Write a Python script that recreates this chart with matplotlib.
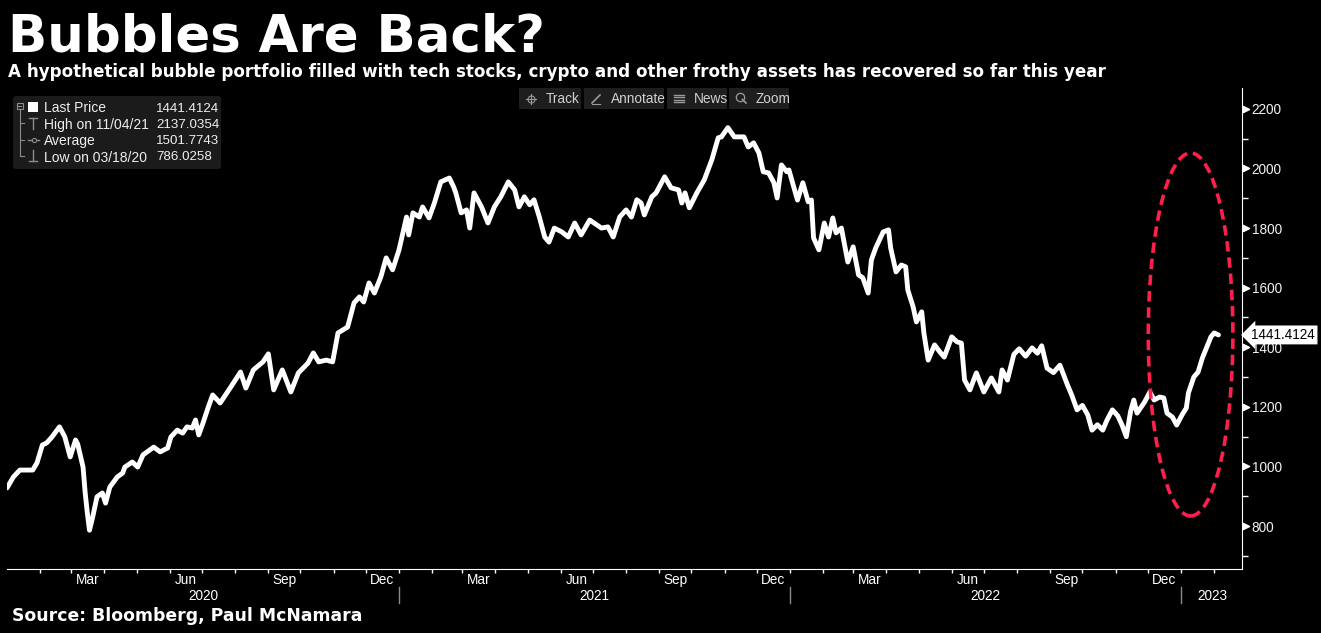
from matplotlib import pyplot as plt
from matplotlib import patches
import matplotlib.dates as mdates
import numpy as np
import pandas as pd

#Bubble portfolio index (one list per year)
dates2020 = ['2020-01-01', '2020-01-07', '2020-01-13', '2020-01-25', '2020-01-29', '2020-02-03', '2020-02-07',
             '2020-02-12', '2020-02-19', '2020-02-24', '2020-02-29', '2020-03-05', '2020-03-07', '2020-03-12',
             '2020-03-14', '2020-03-16', '2020-03-18', '2020-03-21', '2020-03-25', '2020-03-30', '2020-04-02',
             '2020-04-06', '2020-04-13', '2020-04-18', '2020-04-20', '2020-04-27', '2020-05-02', '2020-05-07',
             '2020-05-17', '2020-05-23', '2020-05-30', '2020-06-02', '2020-06-08', '2020-06-13', '2020-06-17',
             '2020-06-22', '2020-06-25', '2020-06-28', '2020-07-02', '2020-07-07', '2020-07-11', '2020-07-18',
             '2020-07-28', '2020-08-06', '2020-08-11', '2020-08-18', '2020-08-27', '2020-09-01', '2020-09-06',
             '2020-09-14', '2020-09-22', '2020-09-29', '2020-10-08', '2020-10-13', '2020-10-18', '2020-10-25',
             '2020-10-31', '2020-11-05', '2020-11-14', '2020-11-20', '2020-11-25', '2020-11-29', '2020-12-04',
             '2020-12-09', '2020-12-15', '2020-12-20', '2020-12-26']
values2020 = [928, 965, 988, 988, 1012, 1072, 1079,
              1099, 1133, 1099, 1032, 1089, 1075, 998,
              911, 844, 786, 830, 898, 911, 877,
              931, 965, 978, 998, 1015, 998, 1039,
              1065, 1049, 1062, 1099, 1122, 1112, 1133,
              1129, 1156, 1106, 1146, 1200, 1240, 1213,
              1267, 1317, 1263, 1324, 1351, 1378, 1257,
              1324, 1250, 1314, 1347, 1381, 1351, 1357,
              1351, 1448, 1468, 1549, 1569, 1552, 1616,
              1582, 1636, 1700, 1660]

dates2021 = ['2021-01-01', '2021-01-08', '2021-01-10', '2021-01-14', '2021-01-20', '2021-01-23', '2021-01-29',
             '2021-02-03', '2021-02-09', '2021-02-17', '2021-02-21', '2021-02-23', '2021-02-28', '2021-03-05',
             '2021-03-08', '2021-03-12', '2021-03-19', '2021-03-25', '2021-03-31', '2021-04-06', '2021-04-13',
             '2021-04-19', '2021-04-23', '2021-04-28', '2021-05-03', '2021-05-07', '2021-05-12', '2021-05-17',
             '2021-05-21', '2021-05-26', '2021-06-02', '2021-06-08', '2021-06-14', '2021-06-20', '2021-06-28',
             '2021-07-09', '2021-07-15', '2021-07-20', '2021-07-26', '2021-08-01', '2021-08-06', '2021-08-11',
             '2021-08-15', '2021-08-18', '2021-08-25', '2021-08-29', '2021-09-06', '2021-09-12', '2021-09-19',
             '2021-09-22', '2021-09-25', '2021-09-29', '2021-10-06', '2021-10-13', '2021-10-20', '2021-10-26',
             '2021-10-29', '2021-11-04', '2021-11-10', '2021-11-19', '2021-11-23', '2021-11-28', '2021-12-03',
             '2021-12-07', '2021-12-12', '2021-12-17', '2021-12-20', '2021-12-24', '2021-12-29', '2021-12-31']
values2021 = [1727, 1837, 1777, 1851, 1837, 1871, 1834,
              1884, 1955, 1968, 1938, 1918, 1851, 1861,
              1800, 1918, 1871, 1817, 1871, 1905, 1955,
              1928, 1871, 1905, 1878, 1895, 1837, 1770,
              1753, 1800, 1787, 1770, 1817, 1777, 1827,
              1800, 1804, 1770, 1837, 1861, 1837, 1895,
              1884, 1844, 1905, 1918, 1972, 1935, 1928,
              1884, 1918, 1868, 1918, 1962, 2029, 2103,
              2106, 2137, 2106, 2106, 2072, 2086, 2052,
              1989, 1985, 1952, 1901, 2012, 1989, 1995]

dates2022 = ['2022-01-08', '2022-01-13', '2022-01-18', '2022-01-21', '2022-01-23', '2022-01-28', '2022-02-02',
             '2022-02-06', '2022-02-10', '2022-02-13', '2022-02-18', '2022-02-24', '2022-03-01', '2022-03-06',
             '2022-03-10', '2022-03-15', '2022-03-18', '2022-03-22', '2022-03-29', '2022-04-03', '2022-04-05',
             '2022-04-10', '2022-04-15', '2022-04-19', '2022-04-21', '2022-04-26', '2022-04-29', '2022-05-04',
             '2022-05-06', '2022-05-10', '2022-05-16', '2022-05-21', '2022-05-25', '2022-06-01', '2022-06-06',
             '2022-06-10', '2022-06-13', '2022-06-18', '2022-06-24', '2022-07-01', '2022-07-08', '2022-07-15',
             '2022-07-18', '2022-07-23', '2022-07-29', '2022-08-03', '2022-08-09', '2022-08-15', '2022-08-20',
             '2022-08-24', '2022-08-29', '2022-09-04', '2022-09-10', '2022-09-17', '2022-09-21', '2022-09-26',
             '2022-10-01', '2022-10-06', '2022-10-10', '2022-10-15', '2022-10-20', '2022-10-24', '2022-10-29',
             '2022-11-03', '2022-11-07', '2022-11-11', '2022-11-15', '2022-11-18', '2022-11-21', '2022-11-28',
             '2022-12-03', '2022-12-07', '2022-12-12', '2022-12-16', '2022-12-19', '2022-12-24', '2022-12-28']
values2022 = [1894, 1952, 1888, 1894, 1767, 1727, 1817,
              1770, 1834, 1784, 1800, 1686, 1737, 1643,
              1633, 1582, 1693, 1733, 1787, 1794, 1733,
              1653, 1676, 1670, 1592, 1535, 1485, 1519,
              1448, 1357, 1408, 1384, 1367, 1435, 1418,
              1414, 1290, 1257, 1314, 1250, 1297, 1250,
              1324, 1290, 1376, 1395, 1370, 1398, 1380,
              1405, 1330, 1315, 1340, 1274, 1240, 1190,
              1205, 1173, 1122, 1140, 1122, 1156, 1190,
              1170, 1139, 1100, 1185, 1223, 1179, 1216,
              1250, 1223, 1233, 1230, 1179, 1166, 1139]

dates2023 = ['2023-01-02', '2023-01-06', '2023-01-08', '2023-01-13', '2023-01-17', '2023-01-21', '2023-01-24',
             '2023-01-29', '2023-02-01', '2023-02-05']
values2023 = [1173, 1196, 1247, 1300, 1317, 1364, 1391,
              1435, 1448, 1441.4124]

#Legend stats
legendLabels = ['Last Price', 'High on 11/04/21', 'Average', 'Low on 03/18/20']
legendValues = ['1441.4124', '2137.0354', '1501.7743', '786.0258']
lastPrice = 1441.4124

yTicks = [800, 1000, 1200, 1400, 1600, 1800, 2000, 2200]
monthLabelMonths = [3, 6, 9, 12]
years = [2020, 2021, 2022]

#Figure size in pixels
W, H = 1321, 633
tickFont = 'Liberation Sans'

dates = pd.to_datetime(dates2020 + dates2021 + dates2022 + dates2023)
values = values2020 + values2021 + values2022 + values2023

fig = plt.figure(figsize=(W / 100, H / 100), dpi=100, facecolor='black')
ax = fig.add_axes([7 / W, 1 - 569 / H, (1242 - 7) / W, (569 - 88) / H])
ax.set_facecolor('black')

ax.plot(dates, values, color='white', lw=3.5, solid_joinstyle='round', solid_capstyle='round', zorder=3)
ax.set_xlim(pd.Timestamp('2020-01-01'), pd.Timestamp('2023-02-27'))
ax.set_ylim(656, 2270)

#The red dashed ellipse round the 2023 rebound
ell = patches.Ellipse((mdates.date2num(pd.Timestamp('2023-01-10')), 1443), width=79, height=1218,
                      fill=False, edgecolor='#ff1f4b', lw=2.6, ls=(0, (2.9, 1.6)), zorder=4)
ax.add_patch(ell)

#Spines
for s in ['left', 'top']:
    ax.spines[s].set_visible(False)
ax.spines['right'].set_color('white')
ax.spines['bottom'].set_color('white')

#Y axis on the right with little flags
ax.yaxis.tick_right()
ax.set_yticks(yTicks)
ax.set_yticks(np.arange(700, 2300, 100), minor=True)
ax.tick_params(axis='y', which='major', length=0, pad=7, labelsize=9.8, labelcolor='#f2f2f2')
ax.tick_params(axis='y', which='minor', length=4, width=1, color='white')
for lab in ax.get_yticklabels():
    lab.set_fontfamily(tickFont)
ax.scatter(np.full(len(yTicks), 1.0035), yTicks, marker='>', s=20, color='white',
           transform=ax.get_yaxis_transform(), clip_on=False, zorder=5)

#X axis: month ticks, quarter labels, year row
monthStarts = pd.date_range('2020-02-01', '2023-02-01', freq='MS')
ax.set_xticks(monthStarts)
ax.set_xticklabels([])
ax.tick_params(axis='x', which='major', length=3, width=1, color='white')
midMonths = [pd.Timestamp(y, m, 16) for y in years for m in monthLabelMonths]
ax.set_xticks(midMonths, minor=True)
ax.set_xticklabels([d.strftime('%b') for d in midMonths], minor=True)
ax.tick_params(axis='x', which='minor', length=0, pad=3, labelsize=9.8, labelcolor='white')
for lab in ax.get_xticklabels(minor=True):
    lab.set_fontfamily(tickFont)

xt = ax.get_xaxis_transform()
for yr in years:
    ax.text(pd.Timestamp(yr, 7, 2), -0.057, str(yr), transform=xt, ha='center', va='center',
            color='white', fontsize=9.8, family=tickFont)
ax.text(pd.Timestamp(2023, 1, 30), -0.057, '2023', transform=xt, ha='center', va='center',
        color='white', fontsize=9.8, family=tickFont)
for yr in [2021, 2022, 2023]:
    ax.plot([pd.Timestamp(yr, 1, 1)] * 2, [-0.037, -0.071], transform=xt, color='#8a8a8a', lw=1, clip_on=False)

#Last price tag
ax.text(1.0075, lastPrice, '1441.4124', transform=ax.get_yaxis_transform(), ha='left', va='center',
        fontsize=9.8, family=tickFont, color='black', zorder=10, clip_on=False,
        bbox=dict(boxstyle='larrow,pad=0.18', fc='white', ec='none'))

#Overlay in pixel units for titles, legend box and toolbar
ov = fig.add_axes([0, 0, 1, 1])
ov.set_xlim(0, W)
ov.set_ylim(H, 0)
ov.axis('off')
ov.patch.set_visible(False)

ov.text(8, 52, 'Bubbles Are Back?', fontsize=37, fontweight='bold', color='white', va='baseline')
ov.text(8, 77, 'A hypothetical bubble portfolio filled with tech stocks, crypto and other frothy assets '
        'has recovered so far this year', fontsize=12.1, fontweight='bold', color='white', va='baseline')
ov.text(12, 621, 'Source: Bloomberg, Paul McNamara', fontsize=12.4, fontweight='bold', color='white', va='baseline')

#Legend box
ov.add_patch(patches.FancyBboxPatch((13, 96), 208, 73, boxstyle='round,pad=0,rounding_size=3',
                                    fc='#1b1b1b', ec='none'))
rowY = [108.5, 124.5, 141.5, 157.5]
for lab, val, yy in zip(legendLabels, legendValues, rowY):
    ov.text(44, yy, lab, fontsize=10, family=tickFont, color='#eeeeee', va='center')
    ov.text(156, yy, val, fontsize=9.6, family=tickFont, color='#eeeeee', va='center')
#tree lines and icons
gray = '#8c8c8c'
ov.add_patch(patches.Rectangle((16.5, 102.5), 6, 6, fill=False, ec=gray, lw=0.8))
ov.plot([18, 21], [105.5, 105.5], color=gray, lw=0.8)
ov.plot([19.5, 19.5], [108.5, 156], color=gray, lw=0.8)
for yy in [123, 140, 156]:
    ov.plot([19.5, 24], [yy, yy], color=gray, lw=0.8)
ov.add_patch(patches.Rectangle((28, 102), 10, 10, fc='white', ec='none'))
ov.plot([33, 33], [118, 129], color=gray, lw=1)
ov.plot([29, 37], [118, 118], color=gray, lw=1)
ov.plot([28, 39], [140, 140], color=gray, lw=1)
ov.plot([33.5], [140], marker='o', ms=3, mfc='#1b1b1b', mec=gray, mew=0.8)
ov.plot([33, 33], [150, 161], color=gray, lw=1)
ov.plot([29, 37], [161, 161], color=gray, lw=1)

#Toolbar
buttons = [('Track', 519, 581), ('Annotate', 584, 664), ('News', 667, 727), ('Zoom', 729, 789)]
for name, x0, x1 in buttons:
    ov.add_patch(patches.Rectangle((x0, 88), x1 - x0, 21, fc='#1e1e1e', ec='none'))
    ov.text(x0 + 27, 99, name, fontsize=9.8, family=tickFont, color='#d0d0d0', va='center')
tb = '#9a9a9a'
#crosshair
ov.plot([531], [98.5], marker='o', ms=5, mfc='none', mec=tb, mew=0.8)
ov.plot([526, 536], [98.5, 98.5], color=tb, lw=0.8)
ov.plot([531, 531], [93.5, 103.5], color=tb, lw=0.8)
#pencil
ov.plot([592, 600], [103, 95], color=tb, lw=1.2)
ov.plot([592, 600], [103.5, 103.5], color=tb, lw=0.8)
#news lines
for yy in [94.5, 97, 99.5, 102]:
    ov.plot([674, 684], [yy, yy], color=tb, lw=1)
#magnifier
ov.plot([740], [97], marker='o', ms=6, mfc='none', mec=tb, mew=0.9)
ov.plot([742.5, 746], [99.5, 103], color=tb, lw=1.2)

fig.savefig('out.png', dpi=100, facecolor='black')
